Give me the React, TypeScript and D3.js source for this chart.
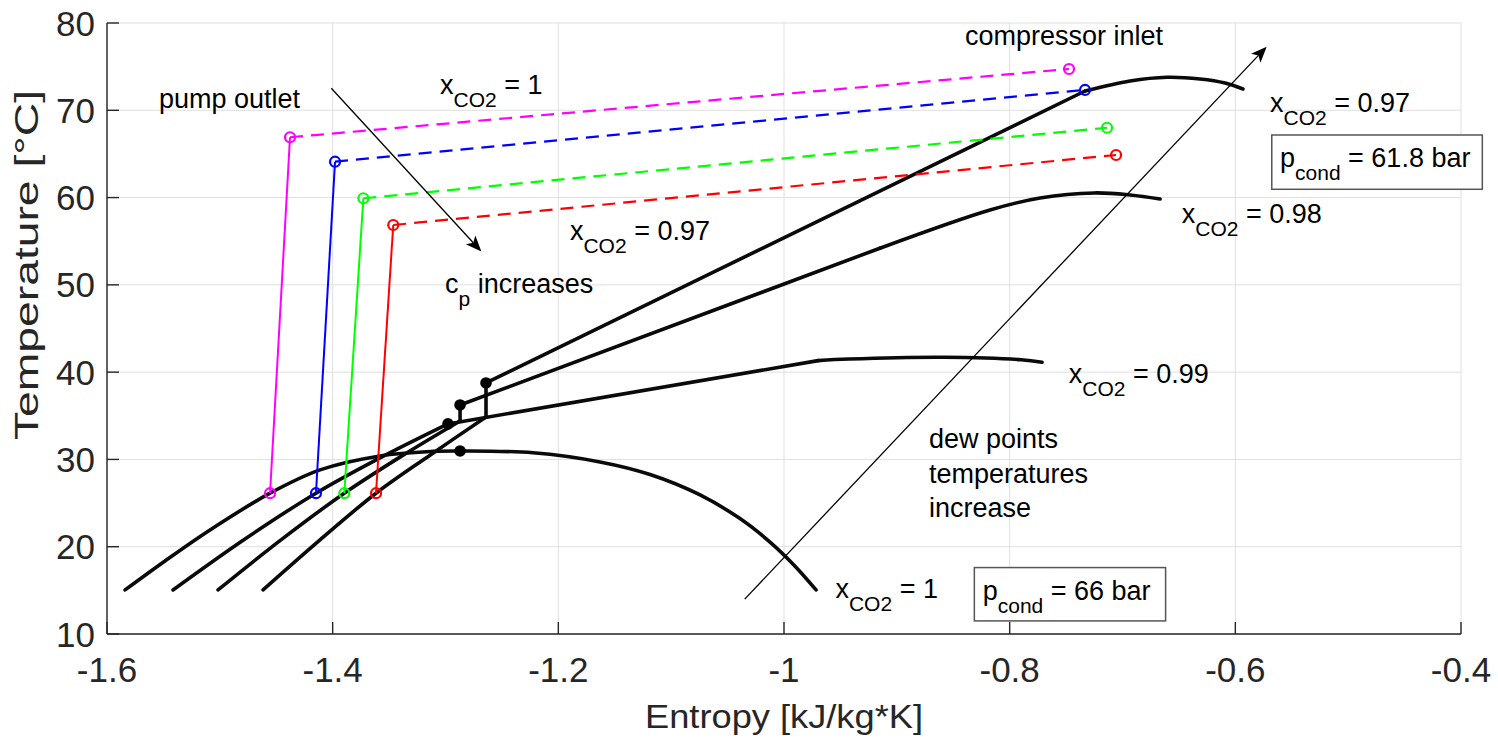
import React from 'react';
import * as d3 from 'd3';

const W = 1498;
const H = 739;

// axes
const xTicks = [-1.6, -1.4, -1.2, -1.0, -0.8, -0.6, -0.4];
const xTickLabels = ['-1.6', '-1.4', '-1.2', '-1', '-0.8', '-0.6', '-0.4'];
const yTicks = [10, 20, 30, 40, 50, 60, 70, 80];

// pure CO2 saturation dome (x_CO2 = 1)
const domeCO2: [number, number][] = [
  [-1.584, 15.05], [-1.5486, 18.37], [-1.5087, 21.92], [-1.4555, 26.13], [-1.4112, 28.8],
  [-1.358, 30.4], [-1.3111, 30.92], [-1.2871, 30.97], [-1.2224, 30.76], [-1.1631, 29.71],
  [-1.1187, 28.27], [-1.0744, 25.93], [-1.039, 23.22], [-1.0124, 20.53], [-0.9902, 17.77], [-0.9716, 15.05],
];
// x_CO2 = 0.99 : bubble line, straight dew segment, flat dew end
const bubble099: [number, number][] = [
  [-1.5415, 15.05], [-1.4777, 20.89], [-1.4148, 26.13], [-1.3563, 30.29], [-1.2978, 34.07],
];
const dew099: [number, number][] = [
  [-1.2978, 34.07], [-0.9698, 41.32],
];
const dew099End: [number, number][] = [
  [-0.9698, 41.32], [-0.9424, 41.5], [-0.8582, 41.71], [-0.7899, 41.42], [-0.7713, 41.13],
];
// x_CO2 = 0.98
const bubble098: [number, number][] = [
  [-1.5016, 15.05], [-1.4458, 20.78], [-1.3897, 26.13], [-1.3386, 30.41], [-1.2871, 34.41],
];
const rise098: [number, number][] = [[-1.2871, 34.41], [-1.2871, 36.24]];
const dew098: [number, number][] = [
  [-1.2871, 36.24], [-0.915, 54.2],
];
const dew098End: [number, number][] = [
  [-0.915, 54.2], [-0.8174, 58.58], [-0.7731, 59.95], [-0.7252, 60.53], [-0.6933, 60.3], [-0.6667, 59.84],
];
// x_CO2 = 0.97
const bubble097: [number, number][] = [
  [-1.4617, 15.05], [-1.4112, 20.78], [-1.3616, 26.13], [-1.3128, 30.57], [-1.2641, 34.87],
];
const rise097: [number, number][] = [[-1.2641, 34.87], [-1.2641, 38.76]];
const dew097: [number, number][] = [
  [-1.2641, 38.76], [-0.7332, 72.21],
];
const dew097End: [number, number][] = [
  [-0.7332, 72.21], [-0.6933, 73.36], [-0.6605, 73.78], [-0.6313, 73.59], [-0.6091, 73.13], [-0.5932, 72.44],
];
const criticalPoints: [number, number][] = [
  [-1.2871, 30.97], [-1.2978, 34.07], [-1.2871, 36.24], [-1.2641, 38.76],
];

// cycles: magenta, blue, green, red
const cycleColors = ['#ff00ff', '#0000ff', '#00ff00', '#ff0000'];
const pumpInlet: [number, number][] = [[-1.4555, 26.13], [-1.4148, 26.13], [-1.3897, 26.13], [-1.3616, 26.13]];
const pumpOutlet: [number, number][] = [[-1.4378, 66.91], [-1.3979, 64.11], [-1.3728, 59.92], [-1.3463, 56.86]];
const compressorInlet: [number, number][] = [[-0.7474, 74.73], [-0.7332, 72.33], [-0.7137, 68.0], [-0.7057, 64.88]];

// annotation arrows [from, to]
const arrowCp: [number, number][] = [[-1.4012, 72.52], [-1.2682, 53.81]];
const arrowDew: [number, number][] = [[-1.0348, 13.99], [-0.5722, 77.29]];

const x = d3.scaleLinear().domain([-1.6, -0.4]).range([107, 1461]);
const y = d3.scaleLinear().domain([10, 80]).range([634, 23]);

const smooth = d3.line<[number, number]>().x(d => x(d[0])).y(d => y(d[1])).curve(d3.curveCatmullRom.alpha(0.5));
const straight = d3.line<[number, number]>().x(d => x(d[0])).y(d => y(d[1]));

const FONT = '"Liberation Sans", Arial, Helvetica, sans-serif';
const FS = 27;
const SUB = 21;

function Arrow({ pts }: { pts: [number, number][] }) {
  const x1 = x(pts[0][0]), y1 = y(pts[0][1]);
  const x2 = x(pts[1][0]), y2 = y(pts[1][1]);
  const L = Math.hypot(x2 - x1, y2 - y1);
  const ux = (x2 - x1) / L, uy = (y2 - y1) / L;
  const nx = -uy, ny = ux;
  const len = 16, half = 6.5, back = 4;
  const bx = x2 - len * ux, by = y2 - len * uy;
  const kx = x2 - (len - back) * ux, ky = y2 - (len - back) * uy;
  const head = `M${x2},${y2}L${bx + half * nx},${by + half * ny}L${kx},${ky}L${bx - half * nx},${by - half * ny}Z`;
  return (
    <g>
      <line x1={x1} y1={y1} x2={kx} y2={ky} stroke="#000" strokeWidth={1.3} />
      <path d={head} fill="#000" />
    </g>
  );
}

function Sub({ px, py, main, sub, rest }: { px: number; py: number; main: string; sub: string; rest: string }) {
  return (
    <text x={px} y={py} fontSize={FS} fill="#000" style={{ whiteSpace: 'pre' }}>
      {main}
      <tspan dy={13} fontSize={SUB}>{sub}</tspan>
      <tspan dy={-13} fontSize={FS}>{rest}</tspan>
    </text>
  );
}

export default function App() {
  const pw = [107, 1461];
  const ph = [23, 634];
  const smoothPaths = [domeCO2, bubble099, dew099End, bubble098, dew098End, bubble097, dew097End];
  const straightPaths = [dew099, rise098, dew098, rise097, dew097];
  return (
    <svg width={W} height={H} style={{ position: 'absolute', left: 0, top: 0, background: '#fff' }} fontFamily={FONT}>
      <rect x={0} y={0} width={W} height={H} fill="#fff" />
      {/* grid */}
      {xTicks.map(t => (
        <line key={'gx' + t} x1={x(t)} x2={x(t)} y1={ph[0]} y2={ph[1]} stroke="#dfdfdf" strokeWidth={1} />
      ))}
      {yTicks.map(t => (
        <line key={'gy' + t} x1={pw[0]} x2={pw[1]} y1={y(t)} y2={y(t)} stroke="#dfdfdf" strokeWidth={1} />
      ))}
      {/* axes */}
      <line x1={pw[0]} x2={pw[0]} y1={ph[0]} y2={ph[1]} stroke="#262626" strokeWidth={1.4} />
      <line x1={pw[0]} x2={pw[1]} y1={ph[1]} y2={ph[1]} stroke="#262626" strokeWidth={1.4} />
      {xTicks.map(t => (
        <line key={'tx' + t} x1={x(t)} x2={x(t)} y1={ph[1]} y2={ph[1] - 12} stroke="#262626" strokeWidth={1.4} />
      ))}
      {yTicks.map(t => (
        <line key={'ty' + t} x1={pw[0]} x2={pw[0] + 12} y1={y(t)} y2={y(t)} stroke="#262626" strokeWidth={1.4} />
      ))}
      {xTicks.map((t, i) => (
        <text key={'lx' + t} x={x(t)} y={ph[1] + 48} fontSize={35} textAnchor="middle" fill="#262626">{xTickLabels[i]}</text>
      ))}
      {yTicks.map(t => (
        <text key={'ly' + t} x={95} y={y(t) + 12.5} fontSize={35} textAnchor="end" fill="#262626">{t}</text>
      ))}
      <text x={784} y={728} fontSize={33} textAnchor="middle" fill="#262626" textLength={278} lengthAdjust="spacingAndGlyphs">Entropy [kJ/kg*K]</text>
      <text transform="translate(38,265) rotate(-90)" fontSize={33} textAnchor="middle" fill="#262626" textLength={350} lengthAdjust="spacingAndGlyphs">Temperature [°C]</text>

      {/* black isobars */}
      <g fill="none" stroke="#0a0a0a" strokeWidth={3.6} strokeLinejoin="round" strokeLinecap="round">
        {smoothPaths.map((p, i) => <path key={'s' + i} d={smooth(p) || ''} />)}
        {straightPaths.map((p, i) => <path key={'l' + i} d={straight(p) || ''} />)}
      </g>
      {criticalPoints.map((p, i) => (
        <circle key={'cp' + i} cx={x(p[0])} cy={y(p[1])} r={5.8} fill="#000" />
      ))}

      {/* cycles */}
      {cycleColors.map((c, i) => (
        <g key={'cy' + i}>
          <line x1={x(pumpInlet[i][0])} y1={y(pumpInlet[i][1])} x2={x(pumpOutlet[i][0])} y2={y(pumpOutlet[i][1])} stroke={c} strokeWidth={2} />
          <line x1={x(pumpOutlet[i][0])} y1={y(pumpOutlet[i][1])} x2={x(compressorInlet[i][0])} y2={y(compressorInlet[i][1])} stroke={c} strokeWidth={2.2} strokeDasharray="13,8" />
          {[pumpInlet[i], pumpOutlet[i], compressorInlet[i]].map((p, j) => (
            <circle key={j} cx={x(p[0])} cy={y(p[1])} r={5} fill="none" stroke={c} strokeWidth={2.2} />
          ))}
        </g>
      ))}

      {/* arrows */}
      <Arrow pts={arrowCp} />
      <Arrow pts={arrowDew} />

      {/* annotations */}
      <text x={x(-1.5539)} y={y(70.26)} fontSize={FS}>pump outlet</text>
      <text x={x(-0.8396)} y={y(77.48)} fontSize={FS}>compressor inlet</text>
      <Sub px={x(-1.3049)} py={y(71.87)} main="x" sub="CO2" rest=" = 1" />
      <Sub px={x(-1.1897)} py={y(55.14)} main="x" sub="CO2" rest=" = 0.97" />
      <Sub px={x(-1.3004)} py={y(49.11)} main="c" sub="p" rest=" increases" />
      <Sub px={x(-0.5693)} py={y(69.84)} main="x" sub="CO2" rest=" = 0.97" />
      <Sub px={x(-0.6475)} py={y(57.09)} main="x" sub="CO2" rest=" = 0.98" />
      <Sub px={x(-0.7476)} py={y(38.73)} main="x" sub="CO2" rest=" = 0.99" />
      <Sub px={x(-0.9544)} py={y(14.13)} main="x" sub="CO2" rest=" = 1" />
      <text x={929} y={448} fontSize={FS}>
        <tspan x={929} y={448}>dew points</tspan>
        <tspan x={929} y={483}>temperatures</tspan>
        <tspan x={929} y={517}>increase</tspan>
      </text>

      {/* boxes */}
      <rect x={x(-0.5677)} y={y(67.17)} width={x(-0.3811) - x(-0.5677)} height={y(60.95) - y(67.17)} fill="#fff" stroke="#555" strokeWidth={1.5} />
      <Sub px={1280} py={166.7} main="p" sub="cond" rest=" = 61.8 bar" />
      <rect x={x(-0.8313)} y={y(17.61)} width={x(-0.6618) - x(-0.8313)} height={y(11.5) - y(17.61)} fill="#fff" stroke="#555" strokeWidth={1.5} />
      <Sub px={982.7} py={600} main="p" sub="cond" rest=" = 66 bar" />
    </svg>
  );
}
